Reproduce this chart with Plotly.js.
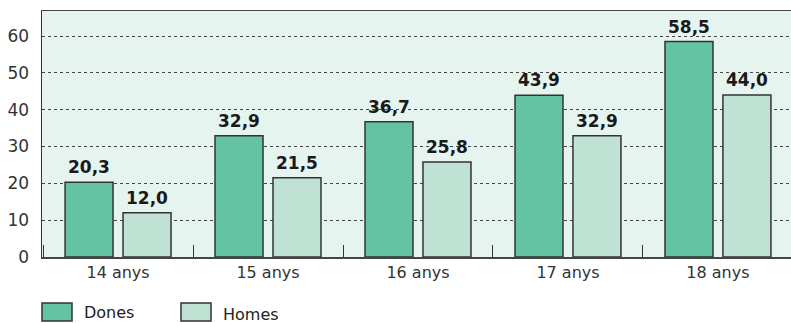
<!DOCTYPE html>
<html><head><meta charset="utf-8">
<script src="https://cdn.plot.ly/plotly-3.0.1.min.js"></script>
<style>body{margin:0;background:#fff}#c{width:791px;height:323px}</style>
</head><body><div id="c"></div>
<script>
const categories = ["14 anys", "15 anys", "16 anys", "17 anys", "18 anys"];
const dones = [20.3, 32.9, 36.7, 43.9, 58.5];
const homes = [12.0, 21.5, 25.8, 32.9, 44.0];
const seriesNames = ["Dones", "Homes"];
const colors = ["#64c3a2", "#c0e2d4"];

const FONT = "DejaVu Sans, Liberation Sans, Arial, sans-serif";
function bar(y, i) {
  return {
    type: "bar", x: categories, y: y, name: seriesNames[i],
    marker: {color: colors[i], line: {color: "#333", width: 1.5}},
    hoverinfo: "none"
  };
}
const data = [bar(dones, 0), bar(homes, 1)];

const ann = [];
[dones, homes].forEach((arr, i) => {
  arr.forEach((v, j) => {
    ann.push({x: categories[j], y: v, xref: "x", yref: "y", xshift: i === 0 ? -29 : 29,
      yanchor: "bottom", yshift: 3, showarrow: false,
      text: "<b>" + v.toFixed(1).replace(".", ",") + "</b>",
      font: {family: FONT, size: 17, color: "#1a1a1a"}});
  });
});

const H = 246, W = 749;
function px(x) { return x / W; }
function py(y) { return (257 - y) / H; }
const legShapes = [];
const legX = [42, 181];
seriesNames.forEach((n, i) => {
  legShapes.push({type: "rect", xref: "paper", yref: "paper",
    x0: px(legX[i] - 42), x1: px(legX[i] - 42 + 30), y0: py(303), y1: py(321),
    fillcolor: colors[i], line: {color: "#333", width: 1.5}});
  ann.push({xref: "paper", yref: "paper", x: px(legX[i] - 42 + 40), y: py(312 + i * 2),
    xanchor: "left", yanchor: "middle", showarrow: false, text: n,
    font: {family: FONT, size: 16, color: "#222"}});
});

const layout = {
  width: 791, height: 323,
  margin: {l: 42, r: 0, t: 11, b: 66},
  paper_bgcolor: "#fff", plot_bgcolor: "#e6f4ef",
  barmode: "group", bargap: 0.227, bargroupgap: 0.172,
  showlegend: false,
  xaxis: {type: "category", range: [-0.507, 4.487], showline: true, linecolor: "#444", linewidth: 1.5,
    mirror: true, ticks: "inside", tickson: "boundaries", ticklen: 12, tickcolor: "#333", tickwidth: 1,
    tickfont: {family: FONT, size: 16, color: "#333"}, fixedrange: true},
  yaxis: {range: [0, 66.8], tickvals: [0, 10, 20, 30, 40, 50, 60], showline: true, linecolor: "#333", linewidth: 1.5,
    showgrid: true, gridcolor: "#444", gridwidth: 1, griddash: "3px,3px", zeroline: false,
    ticks: "", ticklabelstandoff: 8,
    tickfont: {family: FONT, size: 17, color: "#333"}, fixedrange: true},
  shapes: legShapes, annotations: ann
};
Plotly.newPlot("c", data, layout, {staticPlot: true, displayModeBar: false});
</script></body></html>
